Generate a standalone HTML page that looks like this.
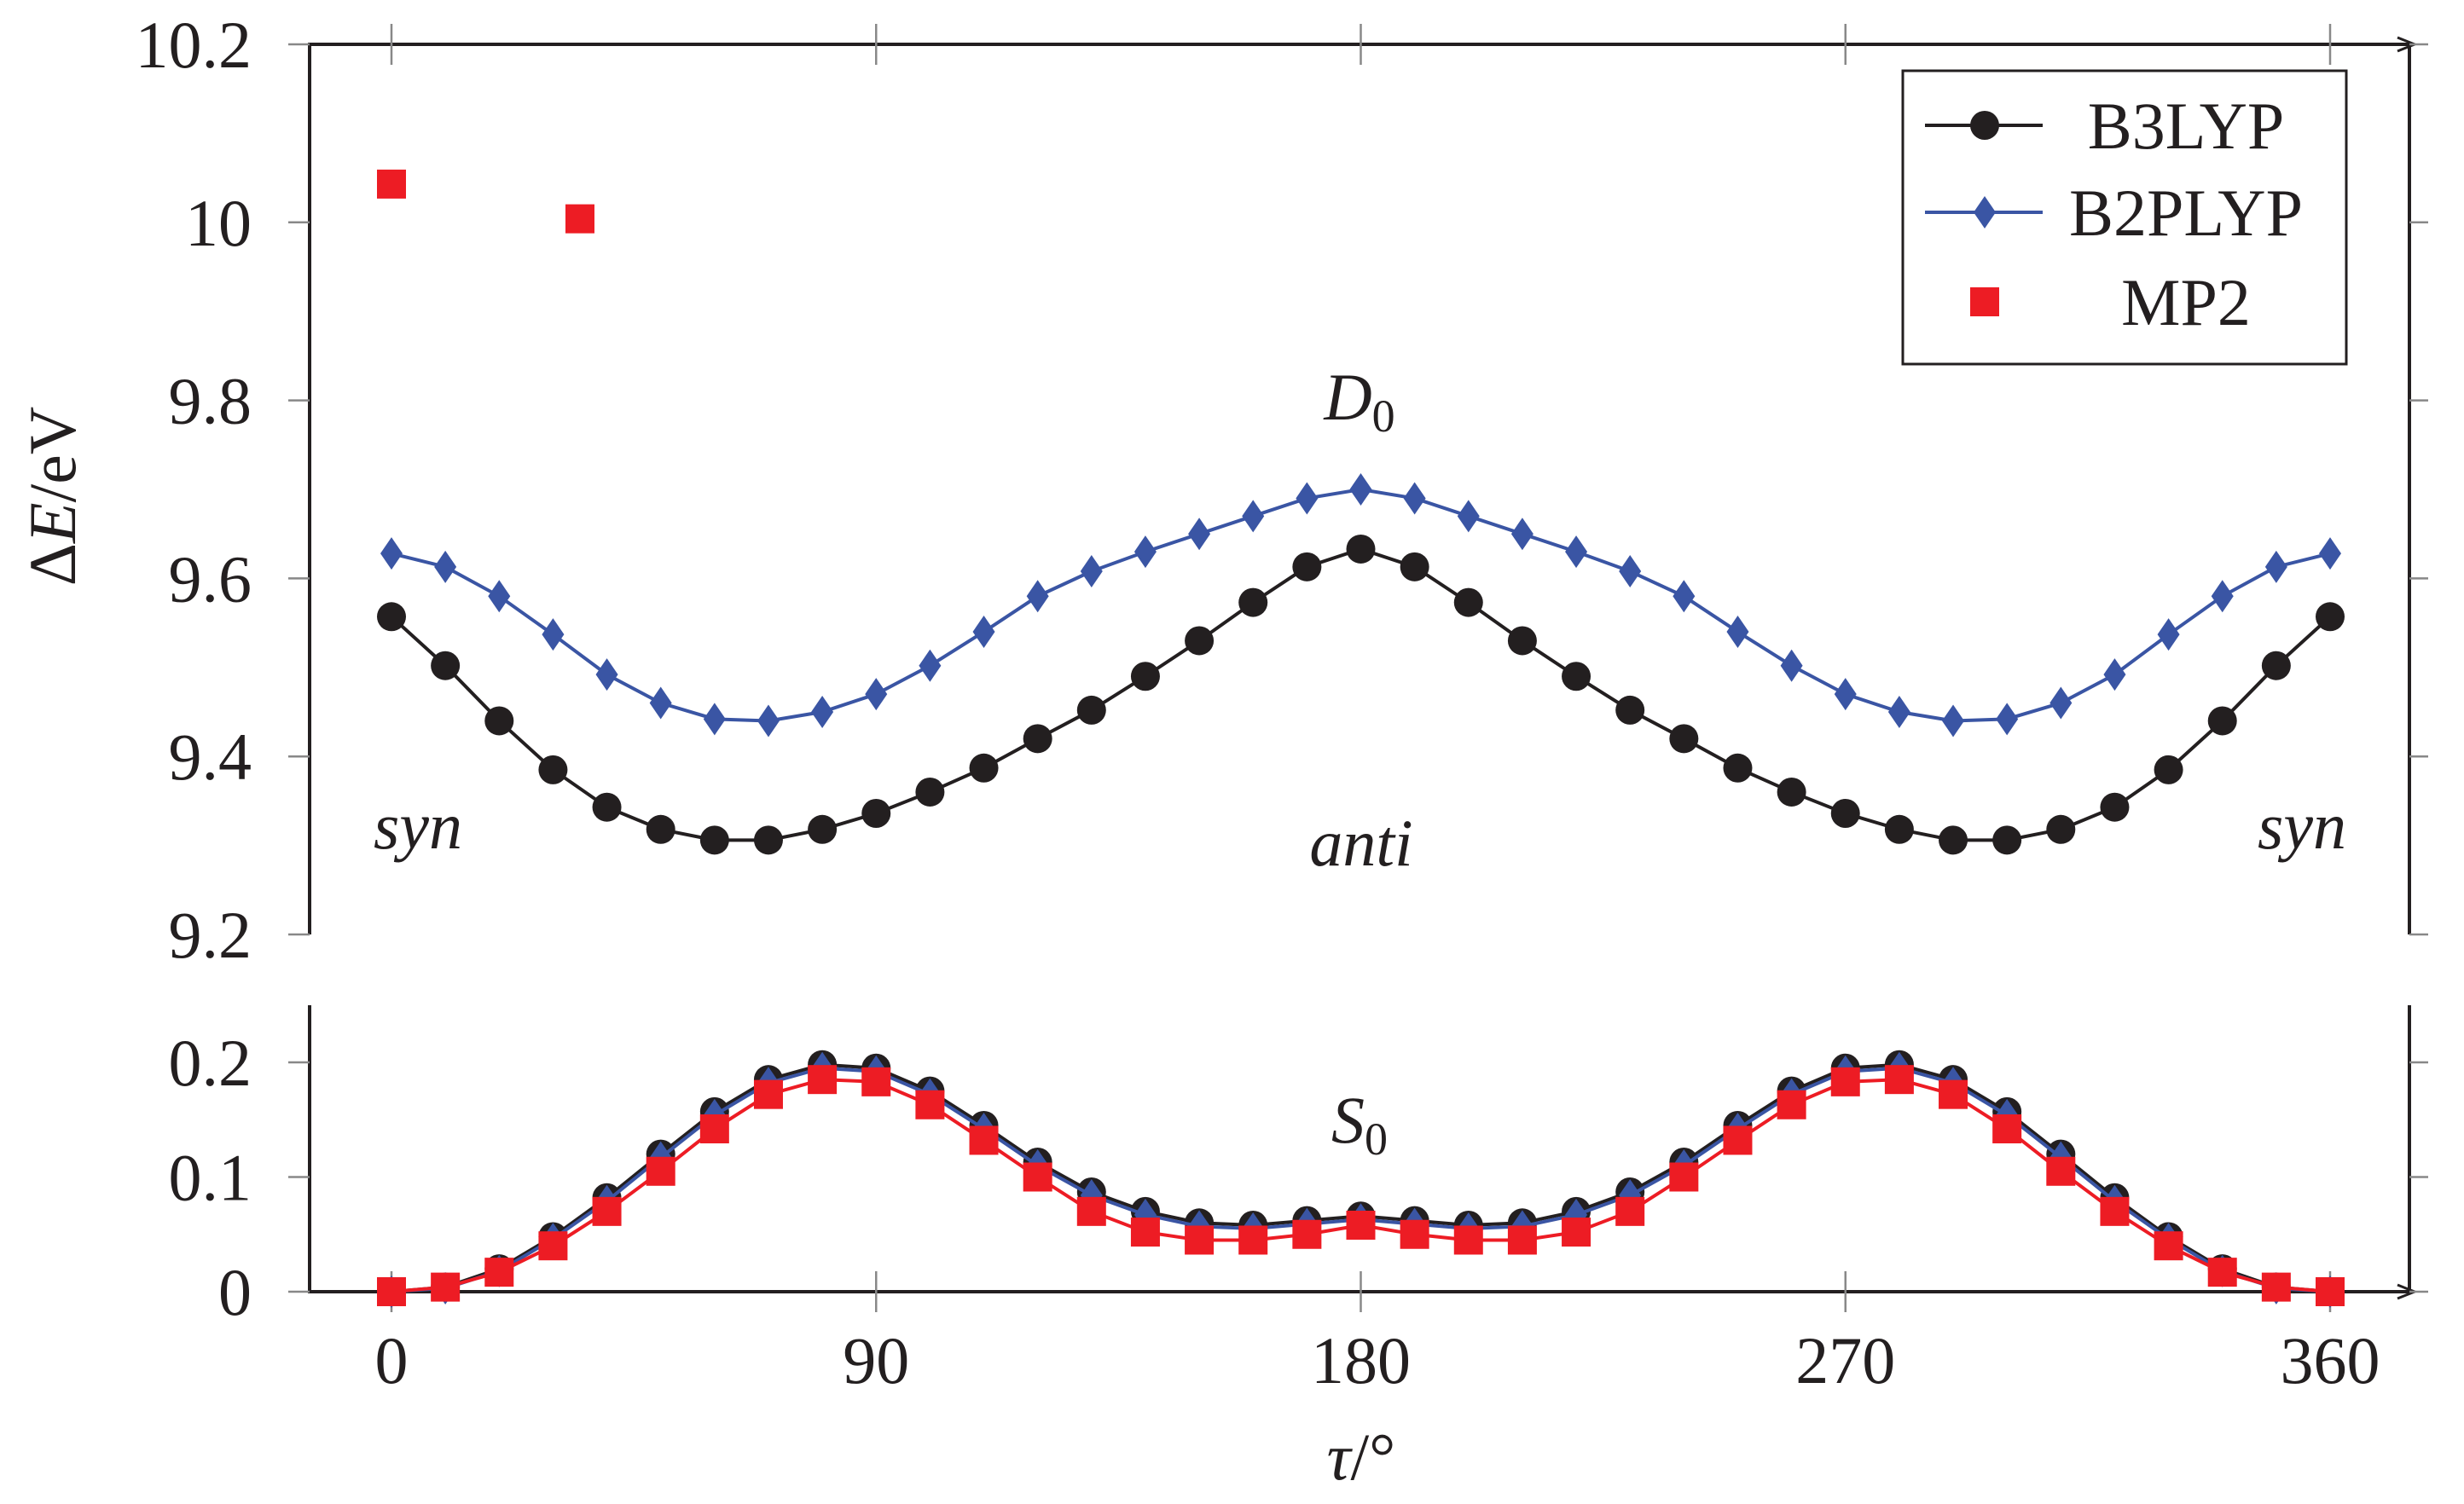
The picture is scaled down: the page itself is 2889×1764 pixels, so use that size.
<!DOCTYPE html>
<html><head><meta charset="utf-8"><style>
html,body{margin:0;padding:0;background:#fff;}
svg{display:block;font-family:"Liberation Serif",serif;}
</style></head><body>
<svg id="chart" width="2889" height="1764" viewBox="0 0 2889 1764">
<g id="axes"></g><g id="marks"></g><g id="labels"></g>
</svg>
<script>
const angles = [];
for (let a = 0; a <= 360; a += 10) angles.push(a);
const b3lypHalf = [9.557,9.502,9.44,9.385,9.343,9.318,9.306,9.306,9.318,9.336,9.36,9.387,9.42,9.452,9.49,9.53,9.573,9.613,9.633];
const b2plypHalf = [9.628,9.613,9.58,9.537,9.492,9.46,9.442,9.44,9.45,9.47,9.502,9.54,9.58,9.608,9.63,9.65,9.67,9.69,9.70];
const mp2UpperAngles = [0,35];
const mp2UpperValues = [10.043,10.004];
const s0B3Half = [0,0.004,0.02,0.048,0.082,0.12,0.157,0.185,0.198,0.195,0.175,0.145,0.113,0.087,0.07,0.06,0.058,0.062,0.066];
const s0B2Half = [0,0.003,0.018,0.046,0.079,0.117,0.154,0.182,0.195,0.192,0.172,0.142,0.11,0.084,0.067,0.057,0.055,0.059,0.063];
const s0MP2Half = [0,0.004,0.017,0.04,0.07,0.105,0.142,0.172,0.185,0.183,0.163,0.132,0.1,0.07,0.052,0.045,0.045,0.05,0.058];
const xTicks = [0,90,180,270,360];
const upperTicks = [9.2,9.4,9.6,9.8,10,10.2];
const lowerTicks = [0,0.1,0.2];
const legendNames = ["B3LYP","B2PLYP","MP2"];

function mirror(h){const r=h.slice();for(let i=h.length-2;i>=0;i--)r.push(h[i]);return r;}
const b3 = mirror(b3lypHalf), b2 = mirror(b2plypHalf);
const s3 = mirror(s0B3Half), s2 = mirror(s0B2Half), sm = mirror(s0MP2Half);

const NS="http://www.w3.org/2000/svg";
function mk(parent,tag,attrs,text){const e=document.createElementNS(NS,tag);for(const k in attrs)e.setAttribute(k,attrs[k]);if(text!==undefined)e.textContent=text;parent.appendChild(e);return e;}
const X = a => 459 + (a/360)*(2732-459);
const YU = v => 52 + (10.2-v)/1.0*(1096-52);
const YL = v => 1515 - v/0.2*(1515-1246);

const axes=document.getElementById('axes'), marks=document.getElementById('marks'), labels=document.getElementById('labels');
const L=363, R=2825;
let e;
e=mk(axes,'path',{d:`M${L},1096 L${L},52 L${R},52 M${R},52 L${R},1096`,fill:'none',stroke:'#231f20','stroke-width':4});

e=mk(axes,'path',{d:`M${R-14},44 L${R+6},52 L${R-14},60`,fill:'none',stroke:'#231f20','stroke-width':3});

e=mk(axes,'path',{d:`M${L},1179 L${L},1515 L${R},1515 M${R},1179 L${R},1515`,fill:'none',stroke:'#231f20','stroke-width':4});

e=mk(axes,'path',{d:`M${R-14},1507 L${R+6},1515 L${R-14},1523`,fill:'none',stroke:'#231f20','stroke-width':3});

upperTicks.forEach(v=>{const y=YU(v);
 e=mk(axes,'path',{d:`M${L-25},${y} L${L},${y} M${R},${y} L${R+22},${y}`,stroke:'#888','stroke-width':2.5});
 
 e=mk(labels,'text',{x:295,y:y+27,'text-anchor':'end','font-size':78,fill:'#231f20'},String(v));
 });
lowerTicks.forEach(v=>{const y=YL(v);
 e=mk(axes,'path',{d:`M${L-25},${y} L${L},${y} M${R},${y} L${R+22},${y}`,stroke:'#888','stroke-width':2.5});
 
 e=mk(labels,'text',{x:295,y:y+27,'text-anchor':'end','font-size':78,fill:'#231f20'},String(v));
 });
xTicks.forEach(a=>{const x=X(a);
 e=mk(axes,'path',{d:`M${x},28 L${x},76 M${x},1491 L${x},1539`,stroke:'#888','stroke-width':2.5});
 
 e=mk(labels,'text',{x:x,y:1622,'text-anchor':'middle','font-size':78,fill:'#231f20'},String(a));
 });

function line(par,vals,Yf,color,w,name){const d=vals.map((v,i)=>(i?'L':'M')+X(angles[i])+','+Yf(v)).join(' ');
 const p=mk(par,'path',{d:d,fill:'none',stroke:color,'stroke-width':w});
 }
function circ(par,x,y,name){const c=mk(par,'circle',{cx:x,cy:y,r:17,fill:'#231f20'});}
function diam(par,x,y,name){const c=mk(par,'path',{d:`M${x},${y-19} L${x+13},${y} L${x},${y+19} L${x-13},${y} Z`,fill:'#3a55a4'});}
function sq(par,x,y,name){const c=mk(par,'rect',{x:x-17,y:y-17,width:34,height:34,fill:'#ed1c24'});}

line(marks,b3,YU,'#231f20',4,'b3lyp-d0-line');
b3.forEach((v,i)=>circ(marks,X(angles[i]),YU(v),'b3lyp-d0-point'));
line(marks,b2,YU,'#3a55a4',4,'b2plyp-d0-line');
b2.forEach((v,i)=>diam(marks,X(angles[i]),YU(v),'b2plyp-d0-point'));
mp2UpperAngles.forEach((a,i)=>sq(marks,X(a),YU(mp2UpperValues[i]),'mp2-d0-point'));

line(marks,s3,YL,'#231f20',4,'b3lyp-s0-line');
s3.forEach((v,i)=>circ(marks,X(angles[i]),YL(v),'b3lyp-s0-point'));
line(marks,s2,YL,'#3a55a4',4,'b2plyp-s0-line');
s2.forEach((v,i)=>diam(marks,X(angles[i]),YL(v),'b2plyp-s0-point'));
line(marks,sm,YL,'#ed1c24',4,'mp2-s0-line');
sm.forEach((v,i)=>sq(marks,X(angles[i]),YL(v),'mp2-s0-point'));

const lg=mk(labels,'g',{});
mk(lg,'rect',{x:2231,y:83,width:520,height:344,fill:'#fff',stroke:'#231f20','stroke-width':3});
const ly=[147,249,354];
e=mk(lg,'line',{x1:2257,y1:ly[0],x2:2395,y2:ly[0],stroke:'#231f20','stroke-width':4});

circ(lg,2327,ly[0],'legend-b3lyp-marker');
e=mk(lg,'line',{x1:2257,y1:ly[1],x2:2395,y2:ly[1],stroke:'#3a55a4','stroke-width':4});

diam(lg,2327,ly[1],'legend-b2plyp-marker');
sq(lg,2327,ly[2],'legend-mp2-marker');
legendNames.forEach((n,i)=>{e=mk(lg,'text',{x:2563,y:ly[i]+27,'text-anchor':'middle','font-size':78,fill:'#231f20'},n);
 });

function txt(x,y,html,name,extra){const t=mk(labels,'text',Object.assign({x:x,y:y,'text-anchor':'middle','font-size':78,fill:'#231f20'},extra||{}));t.innerHTML=html;return t;}
txt(1594,492,'<tspan font-style="italic">D</tspan><tspan font-size="54" dy="14">0</tspan>','d0-label');
txt(1594,1340,'<tspan font-style="italic">S</tspan><tspan font-size="54" dy="14">0</tspan>','s0-label');
txt(490,995,'syn','syn-left-label',{'font-style':'italic'});
txt(1596,1015,'anti','anti-label',{'font-style':'italic'});
txt(2699,995,'syn','syn-right-label',{'font-style':'italic'});
txt(1596,1735,'<tspan font-style="italic">τ</tspan>/°','x-axis-title');
txt(0,0,'Δ<tspan font-style="italic">E</tspan>/eV','y-axis-title',{transform:'translate(88,582) rotate(-90)'});
</script>
</body></html>
